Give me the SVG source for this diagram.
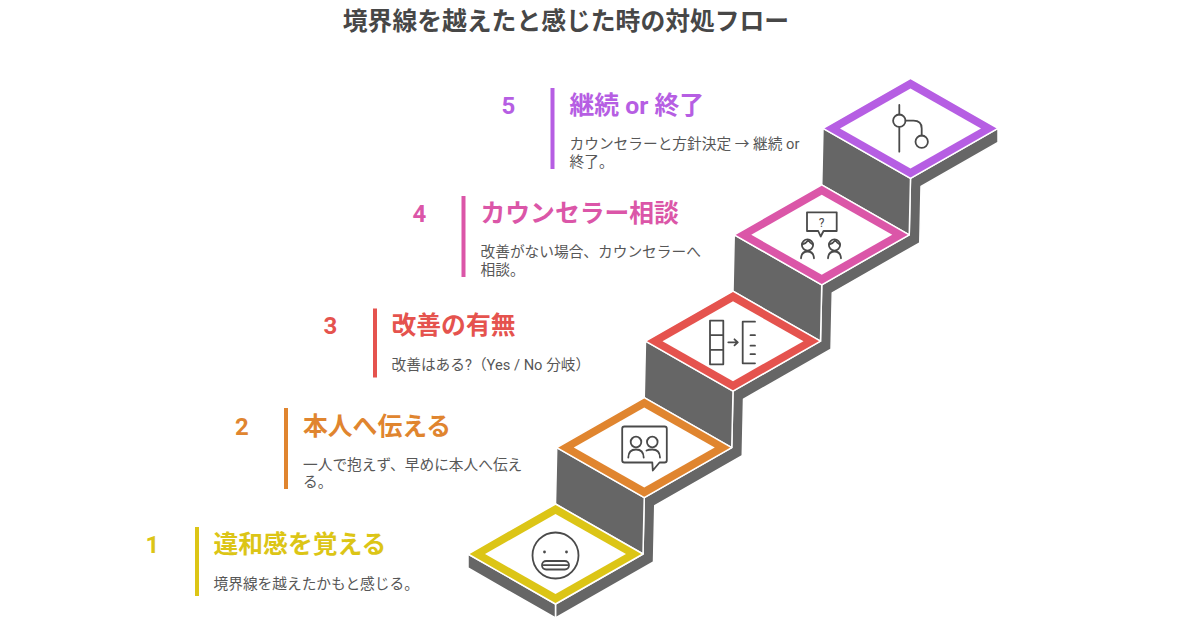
<svg xmlns="http://www.w3.org/2000/svg" width="1200" height="630" viewBox="0 0 1200 630">
<style>
text{font-family:Roboto,"Noto Sans CJK JP","Noto Sans",sans-serif}
.main{font-size:24.8px;font-weight:700;fill:#474747}
.num{font-size:24px;font-weight:700;text-anchor:middle}
.ttl{font-size:24.8px;font-weight:700}
.desc{font-size:14.7px;fill:#575757}
.face{fill:#666666;stroke:#fff;stroke-width:1.5;stroke-linejoin:round}
.top{stroke:#fff;stroke-width:1.5;stroke-linejoin:round}
.in{fill:#fff}
.ic{fill:none;stroke:#4a4a4a;stroke-width:1.8;stroke-linecap:round;stroke-linejoin:round}
.c1{fill:#DCC516}.c2{fill:#E0852F}.c3{fill:#E5534E}.c4{fill:#DB56A8}.c5{fill:#B65EE3}
</style>
<text class="main" x="566" y="30" text-anchor="middle">境界線を越えたと感じた時の対処フロー</text>
<g id="staircase">
<polygon class="face" points="555.5,604 643,554 644.25,497.6 731.75,447.6 733,391.2 820.5,341.2 821.75,284.8 909.25,234.8 910.5,178.4 998,128.4 998,142.4 921,186.4 919.75,242.8 832.25,292.8 831,349.2 743.5,399.2 742.25,455.6 654.75,505.6 653.5,562 555.5,618"/>
<polygon class="face" points="823,128.4 910.5,178.4 909.25,234.8 821.75,184.8"/>
<polygon class="face" points="734.25,234.8 821.75,284.8 820.5,341.2 733,291.2"/>
<polygon class="face" points="645.5,341.2 733,391.2 731.75,447.6 644.25,397.6"/>
<polygon class="face" points="556.75,447.6 644.25,497.6 643,554 555.5,504"/>
<polygon class="face" points="468,554 555.5,604 555.5,618 468,568"/>
</g>
<g id="step5">
<polygon class="top c5" points="823,128.4 910.5,78.4 998,128.4 910.5,178.4"/>
<polygon class="in" points="840,128.4 910.5,88.4 981,128.4 910.5,168.4"/>
<path class="ic" d="M899.3,105V114.5M899.3,127V151.7M905.5,120.7H913.5Q921.7,120.7 921.7,128.5V135.5"/>
<circle class="ic" cx="899.3" cy="120.7" r="6.2"/>
<circle class="ic" cx="921.7" cy="141.7" r="6.2"/>
<rect class="c5" x="550.5" y="88" width="4" height="81"/>
<text class="num c5" x="508.5" y="113.5">5</text>
<text class="ttl c5" x="569.5" y="113.5">継続 or 終了</text>
<text class="desc" x="569.5" y="149">カウンセラーと方針決定 → 継続 or</text>
<text class="desc" x="569.5" y="166.5">終了。</text>
</g>
<g id="step4">
<polygon class="top c4" points="734.25,234.8 821.75,184.8 909.25,234.8 821.75,284.8"/>
<polygon class="in" points="751.25,234.8 821.75,194.8 892.25,234.8 821.75,274.8"/>
<path class="ic" d="M807,212.3H836.7V231H823.5L820.7,236.5L818.2,231H807Z"/>
<text x="821.7" y="226.5" text-anchor="middle" style="font-size:12px;fill:#4a4a4a">?</text>
<circle class="ic" cx="807.5" cy="245" r="5.6"/>
<path class="ic" d="M802.3,244.5Q806,243.5 808.5,240Q810,243.5 812.7,244.5M801,258.3Q801.5,251.5 807.5,251.5Q813.5,251.5 814,258.3"/>
<circle class="ic" cx="834.5" cy="245" r="5.6"/>
<path class="ic" d="M829.3,244.5Q833,243.5 835.5,240Q837,243.5 839.7,244.5M828,258.3Q828.5,251.5 834.5,251.5Q840.5,251.5 841,258.3"/>
<rect class="c4" x="461.5" y="196" width="4" height="81"/>
<text class="num c4" x="419.5" y="221.5">4</text>
<text class="ttl c4" x="480.5" y="221.5">カウンセラー相談</text>
<text class="desc" x="480.5" y="257">改善がない場合、カウンセラーへ</text>
<text class="desc" x="480.5" y="274.5">相談。</text>
</g>
<g id="step3">
<polygon class="top c3" points="645.5,341.2 733,291.2 820.5,341.2 733,391.2"/>
<polygon class="in" points="662.5,341.2 733,301.2 803.5,341.2 733,381.2"/>
<path class="ic" d="M710,320.7H723.3V364.3H710ZM710,335.2H723.3M710,349.8H723.3"/>
<path class="ic" d="M728.3,342.3H737.5M734.5,339.3L737.8,342.3L734.5,345.3"/>
<path class="ic" d="M755,321.7H742.7V363.3H755M750.5,335.2H755M750.5,345.7H755M750.5,354.2H755"/>
<rect class="c3" x="373" y="308.5" width="4" height="69"/>
<text class="num c3" x="330.5" y="334">3</text>
<text class="ttl c3" x="391.5" y="334">改善の有無</text>
<text class="desc" x="391.5" y="370">改善はある?（Yes / No 分岐）</text>
</g>
<g id="step2">
<polygon class="top c2" points="556.75,447.6 644.25,397.6 731.75,447.6 644.25,497.6"/>
<polygon class="in" points="573.75,447.6 644.25,407.6 714.75,447.6 644.25,487.6"/>
<path class="ic" d="M624.5,426.5H664.5Q666.8,426.5 666.8,428.8V460.2Q666.8,462.5 664.5,462.5H659.5L652.8,470.5L652.3,462.5H624.5Q622.2,462.5 622.2,460.2V428.8Q622.2,426.5 624.5,426.5Z"/>
<circle class="ic" cx="636" cy="442" r="5.3"/>
<path class="ic" d="M628.3,457.5Q628.5,449.5 636,449.5Q643.5,449.5 643.7,457.5"/>
<circle class="ic" cx="652.3" cy="442" r="5.3"/>
<path class="ic" d="M646.5,450.5Q648.5,449.5 652.3,449.5Q659.8,449.5 660,457.5"/>
<rect class="c2" x="284" y="408" width="4" height="81"/>
<text class="num c2" x="242" y="434.5">2</text>
<text class="ttl c2" x="303" y="434.5">本人へ伝える</text>
<text class="desc" x="303" y="469.5">一人で抱えず、早めに本人へ伝え</text>
<text class="desc" x="303" y="487">る。</text>
</g>
<g id="step1">
<polygon class="top c1" points="468,554 555.5,504 643,554 555.5,604"/>
<polygon class="in" points="485,554 555.5,514 626,554 555.5,594"/>
<circle class="ic" cx="555.5" cy="555.5" r="23"/>
<circle cx="544.5" cy="552" r="1.4" fill="#4a4a4a"/>
<circle cx="566.5" cy="552" r="1.4" fill="#4a4a4a"/>
<rect class="ic" x="542" y="561" width="27" height="8.5" rx="4.2"/>
<path class="ic" d="M543.5,565.2H567.5"/>
<rect class="c1" x="195" y="527" width="4" height="69"/>
<text class="num c1" x="152.5" y="553">1</text>
<text class="ttl c1" x="213.5" y="553">違和感を覚える</text>
<text class="desc" x="213.5" y="589">境界線を越えたかもと感じる。</text>
</g>
</svg>
